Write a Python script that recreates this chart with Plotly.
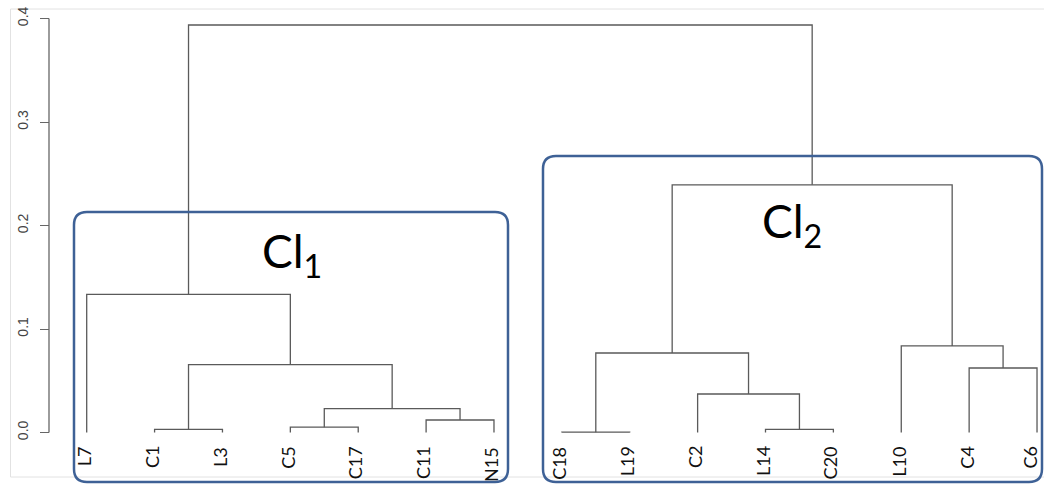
import plotly.graph_objects as go

# ---- data ----
leaves = ["L7", "C1", "L3", "C5", "C17", "C11", "N15",
          "C18", "L19", "C2", "L14", "C20", "L10", "C4", "C6"]
# merges: items are leaf names or "#k" (k-th merge, 1-based)
merge_a = ["C18", "C1", "L14", "C5", "C11", "#4", "C2", "C4", "#2", "#1", "L10", "L7", "#10", "#12"]
merge_b = ["L19", "L3", "C20", "C17", "N15", "#5", "#3", "C6", "#6", "#7", "#8", "#9", "#11", "#13"]
merge_height = [0.0003, 0.0031, 0.0031, 0.0051, 0.0121, 0.0231, 0.0372,
                0.0623, 0.0655, 0.0768, 0.0836, 0.1335, 0.2393, 0.3937]
ytick_vals = [0.0, 0.1, 0.2, 0.3, 0.4]
ytick_text = ["0.0", "0.1", "0.2", "0.3", "0.4"]
cluster_labels = ["Cl<sub>1</sub>", "Cl<sub>2</sub>"]

OFF = 0  # page body margin removed via post_script
W, H = 1044 - OFF, 484 - OFF
LINE = "#5a5a5a"
BLUE = "#3E6196"

# ---- dendrogram geometry from the merge data ----
pos = {name: (float(i), 0.0) for i, name in enumerate(leaves)}
xs, ys = [], []
for k, (a, b, h) in enumerate(zip(merge_a, merge_b, merge_height), start=1):
    xa, ya = pos[a]
    xb, yb = pos[b]
    xs += [xa, xa, xb, xb, None]
    ys += [ya, h, h, yb, None]
    pos["#%d" % k] = ((xa + xb) / 2.0, h)

fig = go.Figure()
fig.add_trace(go.Scatter(x=xs, y=ys, mode="lines",
                         line=dict(color=LINE, width=1.3),
                         hoverinfo="skip", showlegend=False))

# leaf labels (the last one is nudged left in the original, to stay inside the box)
label_nudge = {"C6": -5}
for i, name in enumerate(leaves):
    fig.add_annotation(x=i, y=0, xref="x", yref="y", text=name,
                       textangle=-90, xanchor="center", yanchor="top",
                       yshift=-13, xshift=-3 + label_nudge.get(name, 0),
                       showarrow=False, borderpad=0,
                       font=dict(family="Lato", size=18, color="#111111"))

def px(x):
    return (x - OFF) / W

def py(y):
    return 1 - (y - OFF) / H

def rounded_rect(x0, y0, x1, y1, r):
    pts = [
        ("M", px(x0 + r), py(y0)),
        ("L", px(x1 - r), py(y0)),
        ("Q", px(x1), py(y0), px(x1), py(y0 + r)),
        ("L", px(x1), py(y1 - r)),
        ("Q", px(x1), py(y1), px(x1 - r), py(y1)),
        ("L", px(x0 + r), py(y1)),
        ("Q", px(x0), py(y1), px(x0), py(y1 - r)),
        ("L", px(x0), py(y0 + r)),
        ("Q", px(x0), py(y0), px(x0 + r), py(y0)),
    ]
    s = ""
    for p in pts:
        cmd = p[0]
        coords = p[1:]
        s += cmd + " " + " ".join("%.5f,%.5f" % (coords[j], coords[j + 1]) for j in range(0, len(coords), 2)) + " "
    return s + "Z"

shapes = []
# light frame of the original figure
frame = dict(type="line", xref="paper", yref="paper", line=dict(color="#e2e2e2", width=1), layer="below")
shapes.append(dict(frame, x0=px(10.5), x1=1, y0=py(9), y1=py(9)))
shapes.append(dict(frame, x0=px(10.5), x1=px(10.5), y0=py(9), y1=py(477)))
shapes.append(dict(frame, x0=px(10.5), x1=1, y0=py(477), y1=py(477)))
# y axis line (0 to 0.4)
shapes.append(dict(type="line", xref="paper", yref="y", x0=px(49), x1=px(49),
                   y0=ytick_vals[0], y1=ytick_vals[-1], line=dict(color="#666666", width=1.3)))
# cluster boxes
shapes.append(dict(type="path", xref="paper", yref="paper",
                   path=rounded_rect(74, 212, 508, 482, 13),
                   line=dict(color=BLUE, width=2.5)))
shapes.append(dict(type="path", xref="paper", yref="paper",
                   path=rounded_rect(543, 156, 1042, 482, 13),
                   line=dict(color=BLUE, width=2.5)))

fig.add_annotation(xref="paper", yref="paper", x=px(292), y=py(254),
                   text=cluster_labels[0], showarrow=False,
                   xanchor="center", yanchor="middle",
                   font=dict(family="Lato", size=46, color="#000000"))
fig.add_annotation(xref="paper", yref="paper", x=px(792), y=py(224),
                   text=cluster_labels[1], showarrow=False,
                   xanchor="center", yanchor="middle",
                   font=dict(family="Lato", size=46, color="#000000"))

LEAF0, STEP = 86.7 - OFF, 67.88
BASE, SCALE = 432.5 - OFF, 1035.0
x_left = -LEAF0 / STEP
x_right = (W - LEAF0) / STEP
y_top = BASE / SCALE
y_bot = -(H - BASE) / SCALE

fig.update_layout(
    width=W, height=H,
    margin=dict(l=0, r=0, t=0, b=0, pad=0),
    paper_bgcolor="white", plot_bgcolor="white",
    template="none",
    showlegend=False,
    shapes=shapes,
    xaxis=dict(range=[x_left, x_right], visible=False, fixedrange=True),
    yaxis=dict(range=[y_bot, y_top], anchor="free", position=px(49), side="left",
               showline=False, showgrid=False, zeroline=False,
               tickvals=ytick_vals, ticktext=ytick_text, tickangle=-90,
               ticks="outside", ticklen=9, tickwidth=1.3, tickcolor="#666666",
               ticklabelstandoff=6, automargin=False, ticklabeloverflow="allow",
               fixedrange=True,
               tickfont=dict(family="Liberation Sans", size=14, color="#444444")),
)

fig.write_html("out.html",
               config={"displayModeBar": False},
               post_script="document.body.style.margin='0';document.body.style.overflow='hidden';")
